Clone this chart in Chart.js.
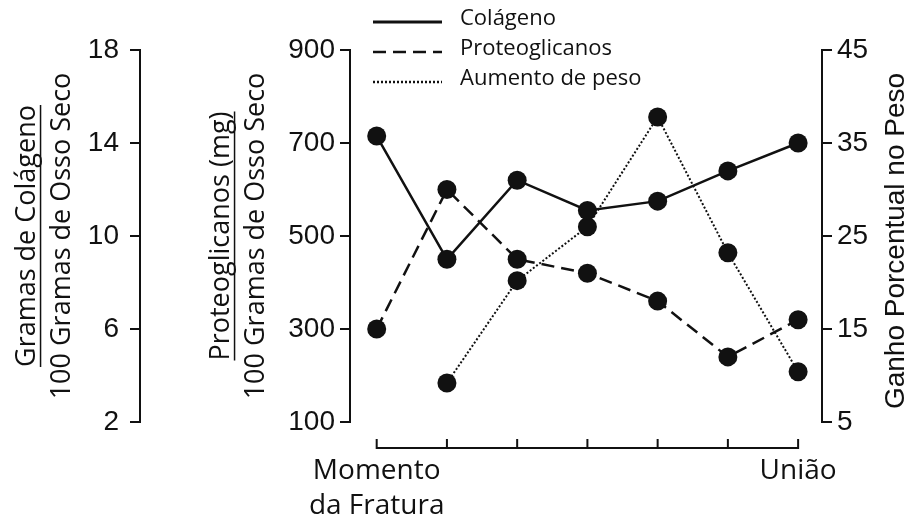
<!DOCTYPE html>
<html>
<head>
<meta charset="utf-8">
<script src="https://cdn.jsdelivr.net/npm/chart.js@4.4.0/dist/chart.umd.min.js"></script>
<style>
  html, body { margin: 0; padding: 0; background: #fff; }
  #wrap { width: 912px; height: 524px; }
</style>
</head>
<body>
<div id="wrap"><canvas id="chart" width="912" height="524"></canvas></div>
<script>
// eixo x: do momento da fratura ate a uniao
const xLabels = [['Momento', 'da Fratura'], '', '', '', '', '', 'União'];
const seriesNames = ['Colágeno', 'Proteoglicanos', 'Aumento de peso'];

// valores
const collagen = [14.3, 9.0, 12.4, 11.1, 11.5, 12.8, 14.0];
const proteoglycans = [300, 600, 450, 420, 360, 240, 320];
const weightGain = [null, 9.2, 20.2, 26.0, 37.8, 23.2, 10.4];

const collagenTicks = [2, 6, 10, 14, 18];
const protTicks = [100, 300, 500, 700, 900];
const weightTicks = [5, 15, 25, 35, 45];

const ink = '#111';
const textFamily = "'Open Sans', sans-serif";
const numFont = { family: "'Liberation Sans', Arial, sans-serif", size: 28 };
const titleFont = { family: textFamily, size: 27, lineHeight: 1.3 };
const collagenTitlePad = 10;
const protTitlePad = 64;

function toPoints(values) {
    return values.map((v, i) => ({ x: i, y: v }));
}

function fixTicks(values) {
    return (axis) => {
        axis.ticks = values.map(v => ({ value: v }));
    };
}

function fixWidth(w) {
    return (axis) => {
        axis.width = w;
    };
}

function yAxis(position, weight, values, width, padding, title) {
    return {
        position: position,
        weight: weight,
        min: values[0],
        max: values[values.length - 1],
        afterBuildTicks: fixTicks(values),
        afterFit: fixWidth(width),
        border: { display: true, color: ink, width: 2 },
        grid: { drawOnChartArea: false, drawTicks: true, tickLength: 10, color: ink, lineWidth: 2 },
        ticks: { padding: padding, color: ink, font: numFont },
        title: title || { display: false }
    };
}

// legenda, linha do eixo x e sublinhados dos titulos
const decorPlugin = {
    id: 'decor',
    afterDraw(chart) {
        const { ctx, chartArea, scales } = chart;
        ctx.save();
        ctx.strokeStyle = ink;
        ctx.fillStyle = ink;

        // eixo x abaixo da area, com marcas para cima
        const xs = scales.x;
        const yBase = chartArea.bottom + 26;
        ctx.lineWidth = 2;
        ctx.beginPath();
        ctx.moveTo(xs.getPixelForValue(0), yBase);
        ctx.lineTo(xs.getPixelForValue(xLabels.length - 1), yBase);
        xLabels.forEach((l, i) => {
            const px = xs.getPixelForValue(i);
            ctx.moveTo(px, yBase + 1);
            ctx.lineTo(px, yBase - 9);
        });
        ctx.stroke();

        // traco de fracao nos titulos da esquerda
        const lh = titleFont.size * titleFont.lineHeight;
        ctx.font = titleFont.size + 'px ' + textFamily;
        [['yC', collagenTitlePad], ['yP', protTitlePad]].forEach(([id, pad]) => {
            const s = scales[id];
            const w = ctx.measureText(s.options.title.text[0]).width;
            const ux = s.left + pad + lh / 2 + 13;
            const cy = (s.top + s.bottom) / 2;
            ctx.lineWidth = 1.5;
            ctx.beginPath();
            ctx.moveTo(ux, cy - w / 2);
            ctx.lineTo(ux, cy + w / 2);
            ctx.stroke();
        });

        // titulo do eixo direito, lido de baixo para cima
        ctx.save();
        ctx.translate(scales.yW.right - 8, (chartArea.top + chartArea.bottom) / 2 + 5);
        ctx.rotate(-Math.PI / 2);
        ctx.font = '28px ' + numFont.family;
        ctx.textAlign = 'center';
        ctx.textBaseline = 'alphabetic';
        ctx.fillText('Ganho Porcentual no Peso', 0, 0);
        ctx.restore();

        // legenda
        const lx = chartArea.left + 23;
        ctx.font = '22px ' + textFamily;
        ctx.textBaseline = 'middle';
        ctx.textAlign = 'left';
        chart.data.datasets.forEach((ds, i) => {
            const ly = chartArea.top - 28 + i * 30;
            ctx.lineWidth = i === 0 ? 3 : 2.5;
            ctx.setLineDash(ds.borderDash || []);
            ctx.beginPath();
            ctx.moveTo(lx, ly);
            ctx.lineTo(lx + 69, ly);
            ctx.stroke();
            ctx.setLineDash([]);
            ctx.fillText(ds.label, lx + 87, ly - 3);
        });
        ctx.restore();
    }
};

const pointStyle = {
    pointRadius: 9.5,
    pointBackgroundColor: ink,
    pointBorderColor: ink,
    pointBorderWidth: 0,
    borderColor: ink,
    backgroundColor: ink,
    fill: false,
    tension: 0
};

const chart = new Chart(document.getElementById('chart').getContext('2d'), {
    type: 'line',
    data: {
        datasets: [{
            label: seriesNames[0],
            data: toPoints(collagen),
            yAxisID: 'yC',
            borderWidth: 2.5,
            ...pointStyle
        }, {
            label: seriesNames[1],
            data: toPoints(proteoglycans),
            yAxisID: 'yP',
            borderWidth: 2.5,
            borderDash: [13, 7],
            ...pointStyle
        }, {
            label: seriesNames[2],
            data: toPoints(weightGain),
            yAxisID: 'yW',
            borderWidth: 2,
            borderDash: [2, 2],
            ...pointStyle
        }]
    },
    options: {
        responsive: false,
        animation: false,
        layout: { padding: { top: 50, left: 0, right: 0, bottom: 0 } },
        plugins: {
            legend: { display: false },
            tooltip: { enabled: false }
        },
        scales: {
            x: {
                type: 'linear',
                min: -0.38,
                max: 6.34,
                afterBuildTicks: (axis) => {
                    axis.ticks = xLabels.map((l, i) => ({ value: i }));
                },
                afterFit: (axis) => {
                    axis.height = 102;
                },
                grid: { display: false, drawTicks: false },
                border: { display: false },
                ticks: {
                    autoSkip: false,
                    maxRotation: 0,
                    padding: 32,
                    color: ink,
                    font: { family: textFamily, size: 28, lineHeight: 1.25 },
                    callback: (v) => xLabels[v]
                }
            },
            yC: yAxis('left', 2, collagenTicks, 140, 11, {
                display: true,
                text: ['Gramas de Colágeno', '100 Gramas de Osso Seco'],
                color: ink,
                font: titleFont,
                padding: { top: collagenTitlePad, bottom: 0 }
            }),
            yP: yAxis('left', 1, protTicks, 210, 5, {
                display: true,
                text: ['Proteoglicanos (mg)', '100 Gramas de Osso Seco'],
                color: ink,
                font: titleFont,
                padding: { top: protTitlePad, bottom: 0 }
            }),
            yW: yAxis('right', 1, weightTicks, 90, 5)
        }
    },
    plugins: [decorPlugin]
});
</script>
</body>
</html>
